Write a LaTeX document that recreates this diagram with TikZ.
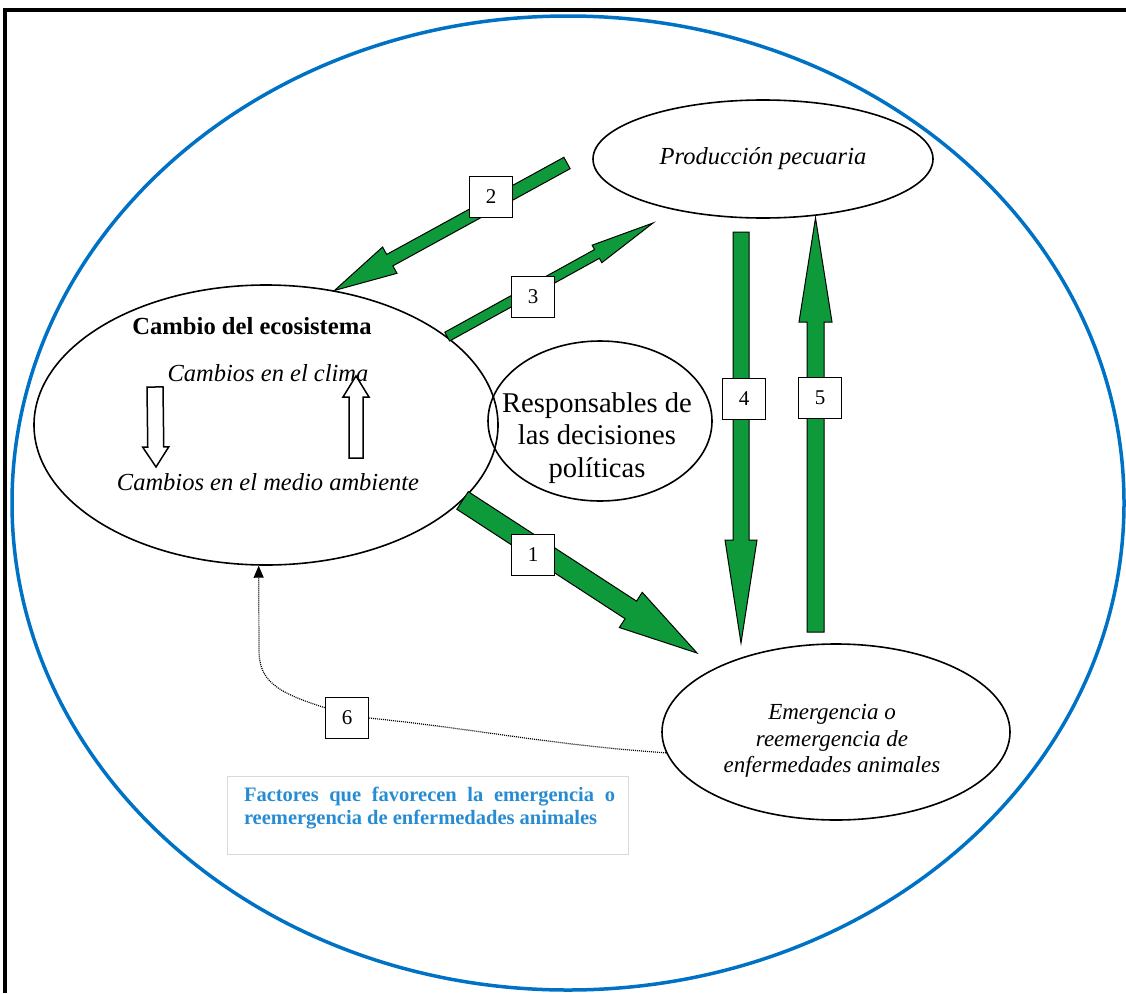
\documentclass[tikz,border=0pt]{standalone}
\usepackage{fontspec}
\setmainfont{Liberation Serif}
\usetikzlibrary{positioning,arrows.meta,shapes.geometric,calc}

\definecolor{arrgreen}{RGB}{14,154,58}
\definecolor{ringblue}{RGB}{0,114,198}
\definecolor{factblue}{RGB}{40,140,210}

% block arrow: [style]{from}{to}{half shaft}{half head}{head length}
\newcommand{\blockarrow}[6][]{%
  \path (#2) coordinate (ba-s) (#3) coordinate (ba-t);
  \path ($(ba-t)!#6!(ba-s)$) coordinate (ba-h);
  \draw[fatarr,#1] ($(ba-s)!#4!90:(ba-t)$) -- ($(ba-h)!#4!-90:(ba-s)$)
    -- ($(ba-h)!#5!-90:(ba-s)$) -- (ba-t) -- ($(ba-h)!#5!90:(ba-s)$)
    -- ($(ba-h)!#4!90:(ba-s)$) -- ($(ba-s)!#4!-90:(ba-t)$) -- cycle;
}

\begin{document}
\begin{tikzpicture}[
    x=1pt, y=-1pt,
    bubble/.style={draw, ellipse, line width=1.6pt, inner sep=0pt},
    fatarr/.style={fill=arrgreen, draw=black, line width=1pt, line join=miter},
    hollow/.style={fill=white, draw=black, line width=1.5pt},
    numbox/.style={draw, fill=white, line width=1.5pt, minimum width=43pt,
                   minimum height=41pt, inner sep=0pt, font=\fontsize{21}{21}\selectfont},
    ittext/.style={font=\fontsize{24.5}{28}\selectfont\itshape, anchor=base},
    dotline/.style={line width=1.2pt, dash pattern=on 1pt off 1pt},
    dotarr/.style={dotline, -{Triangle[width=10pt,length=12pt]}},
  ]
  \useasboundingbox (0,0) rectangle (1126,993);
  \draw[line width=4pt] (5,993) -- (5,10) -- (1126,10);
  \node[draw=ringblue, ellipse, line width=3.5pt, inner sep=0pt,
        minimum width=1112pt, minimum height=974pt] (ring) at (568,503) {};

  % main bubbles
  \node[bubble, minimum width=464pt, minimum height=280pt] (cambio) at (266,425) {};
  \node[bubble, minimum width=340pt, minimum height=118pt,
        font=\fontsize{24.5}{28}\selectfont\itshape] (prod) at (763,159) {Producción pecuaria};
  \node[bubble, minimum width=224pt, minimum height=160pt] (resp) at (600,421) {};
  \node[bubble, minimum width=348pt, minimum height=176pt] (emer) at (836,732) {};

  \node[font=\fontsize{24.6}{28}\selectfont\bfseries, anchor=base] (ecotitle) at (252,334) {Cambio del ecosistema};
  \node[ittext] (clima) at (268,381) {Cambios en el clima};
  \node[ittext] (medio) at (268,490) {Cambios en el medio ambiente};
  \node[font=\fontsize{28.6}{32.5}\selectfont, align=center, inner sep=0pt] (resptxt) at (597,438)
    {Responsables de\\las decisiones\\políticas};
  \node[font=\fontsize{23}{26.5}\selectfont\itshape, align=center, inner sep=0pt] (emertxt) at (832,741)
    {Emergencia o\\reemergencia de\\enfermedades animales};

  % arrow ends
  \coordinate (a2s) at (567,163);
  \coordinate (a3t) at (653,223);
  \coordinate (a1t) at (697,653);
  \coordinate (a4s) at (741,232);
  \coordinate (a4t) at (741,643);
  \coordinate (a5s) at (815.5,632);
  \coordinate (a5t) at (815.5,218);
  \coordinate (dns) at (155,387);
  \coordinate (dnt) at (156,467);
  \coordinate (ups) at (356,458);
  \coordinate (upt) at (356,376);

  \blockarrow{a2s}{cambio.63}{6.5pt}{15pt}{63pt}
  \blockarrow{cambio.26}{a3t}{5pt}{10pt}{64pt}
  \blockarrow{cambio.-21}{a1t}{10.5pt}{21pt}{79pt}
  \blockarrow{a4s}{a4t}{8pt}{16pt}{103pt}
  \blockarrow{a5s}{a5t}{8.5pt}{16.5pt}{104pt}
  \blockarrow[hollow]{dns}{dnt}{8pt}{13pt}{20pt}
  \blockarrow[hollow]{ups}{upt}{7pt}{13pt}{21pt}

  % numbers
  \node[numbox] (n1) at (533,555) {1};
  \node[numbox] (n2) at (491,197) {2};
  \node[numbox] (n3) at (533,297) {3};
  \node[numbox] (n4) at (744,399) {4};
  \node[numbox] (n5) at (820,398) {5};
  \node[numbox] (n6) at (347,718) {6};

  \draw[dotline] (emer.187) to[out=176,in=-6] (n6.east);
  \draw[dotarr] (n6.155) .. controls (275,692) and (259,680) .. (259,650) -- (cambio.-93);

  % legend
  \node[draw=black!15, line width=1pt, minimum width=401pt, minimum height=78pt,
        inner sep=0pt] (facbox) at (427.5,815) {};
  \node[text width=371pt, align=justify, inner sep=0pt, text=factblue,
        font=\fontsize{20.5}{23}\selectfont\bfseries] (factxt) at ([xshift=2pt,yshift=6.5pt]facbox.center)
    {Factores que favorecen la emergencia o\linebreak reemergencia de enfermedades animales};
\end{tikzpicture}
\end{document}
